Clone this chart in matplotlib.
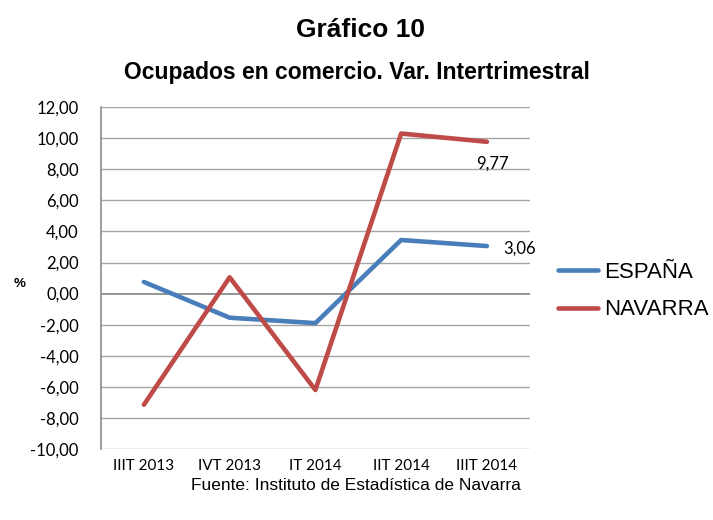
import matplotlib.pyplot as plt
import numpy as np

# Data
trimestres = ['IIIT 2013', 'IVT 2013', 'IT 2014', 'IIT 2014', 'IIIT 2014']
espana = [0.75, -1.55, -1.9, 3.45, 3.06]
navarra = [-7.15, 1.05, -6.2, 10.3, 9.77]
yticks = np.arange(-10, 13, 2)

fig = plt.figure(figsize=(7.13, 5.20), dpi=100)
ax = fig.add_axes([0.1417, 0.1365, 0.6013, 0.6575])

x = np.arange(len(trimestres))
ax.plot(x, espana, color='#4A7EBB', lw=3.3, label='ESPAÑA', solid_capstyle='round')
ax.plot(x, navarra, color='#BE4B48', lw=3.3, label='NAVARRA', solid_capstyle='round')

ax.set_xlim(-0.5, len(trimestres) - 0.5)
ax.set_ylim(-10, 12)
ax.set_yticks(yticks)
ax.set_yticklabels([f'{v:.2f}'.replace('.', ',') for v in yticks], fontfamily='Lato', fontsize=12)
ax.set_xticks(x)
ax.set_xticklabels(trimestres, fontfamily='Lato', fontsize=11)
ax.tick_params(axis='y', length=0, pad=16)
ax.tick_params(axis='x', length=0, pad=7)

for v in yticks:
    ax.axhline(v, color='#8c8c8c' if v == 0 else '#a6a6a6', lw=1.3 if v == 0 else 1.0, zorder=0)
for s in ['top', 'right', 'bottom']:
    ax.spines[s].set_visible(False)
ax.spines['left'].set_color('#8c8c8c')
ax.spines['left'].set_linewidth(1.2)

ax.annotate(f'{navarra[-1]:.2f}'.replace('.', ','), (x[-1], navarra[-1]), xytext=(-8, -16),
            textcoords='offset points', va='center', fontfamily='Lato', fontsize=12)
ax.annotate(f'{espana[-1]:.2f}'.replace('.', ','), (x[-1], espana[-1]), xytext=(11.5, -2),
            textcoords='offset points', va='center', fontfamily='Lato', fontsize=12)

ax.set_ylabel('%', rotation=0, fontfamily='Liberation Sans', fontweight='bold', fontsize=9.5)
ax.yaxis.set_label_coords(-0.19, 0.465)

leg = ax.legend(loc='center left', bbox_to_anchor=(1.03, 0.462), frameon=False,
                prop={'family': 'Liberation Sans', 'size': 16}, handlelength=1.8,
                handletextpad=0.27, labelspacing=0.75, borderaxespad=0.3)

fig.text(0.505, 0.942, 'Gráfico 10', ha='center', va='center', fontfamily='Liberation Sans',
         fontweight='bold', fontsize=19)
fig.text(0.5, 0.86, 'Ocupados en comercio. Var. Intertrimestral', ha='center', va='center',
         fontfamily='Liberation Sans', fontweight='bold', fontsize=16.5)
fig.text(0.499, 0.067, 'Fuente: Instituto de Estadística de Navarra', ha='center', va='center',
         fontfamily='Liberation Sans', fontsize=12.5)

fig.savefig('out.png', dpi=100)
